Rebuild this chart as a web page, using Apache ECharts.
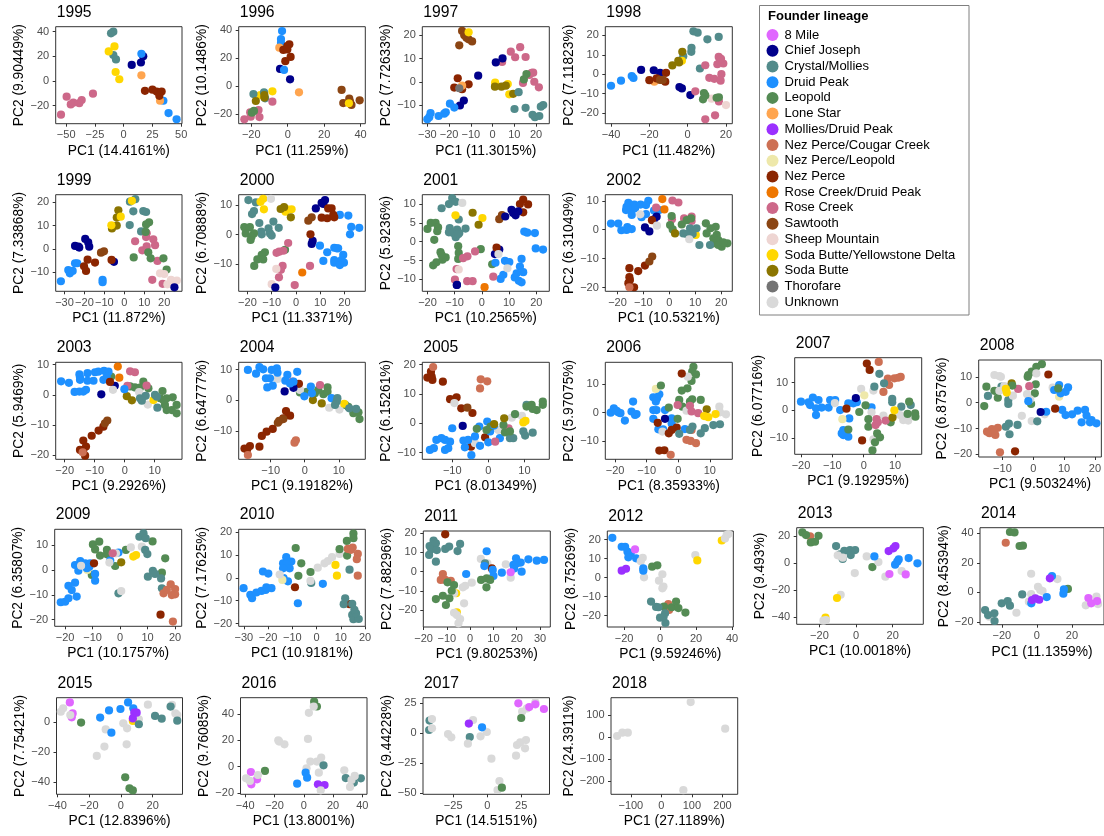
<!DOCTYPE html>
<html><head><meta charset="utf-8">
<style>html,body{margin:0;padding:0;background:#fff;overflow:hidden}#c{width:1104px;height:836px}</style>
<script src="https://cdn.jsdelivr.net/npm/echarts@6/dist/echarts.min.js"></script>
</head><body><div id="c"></div>
<script>
const lineages=["8 Mile","Chief Joseph","Crystal/Mollies","Druid Peak","Leopold","Lone Star","Mollies/Druid Peak","Nez Perce/Cougar Creek","Nez Perce/Leopold","Nez Perce","Rose Creek/Druid Peak","Rose Creek","Sawtooth","Sheep Mountain","Soda Butte/Yellowstone Delta","Soda Butte","Thorofare","Unknown"];
const lineageColors=["#E066FF","#00008B","#528B8B","#1E90FF","#548B54","#FFA54F","#9B30FF","#CD7054","#EEE8AA","#8B2500","#EE7600","#CD6889","#8B4513","#EED5D2","#FFD700","#8B7500","#737373","#D9D9D9"];
const M8=0,CJ=1,CM=2,DP=3,LE=4,LS=5,MD=6,NC=7,NL=8,NP=9,RD=10,RC=11,SA=12,SM=13,SY=14,SB=15,TH=16,UN=17;
const years=[1995,1996,1997,1998,1999,2000,2001,2002,2003,2004,2005,2006,2007,2008,2009,2010,2011,2012,2013,2014,2015,2016,2017,2018];
const pc1Percent=["14.4161","11.259","11.3015","11.482","11.872","11.3371","10.2565","10.5321","9.2926","9.19182","8.01349","8.35933","9.19295","9.50324","10.1757","10.9181","9.80253","9.59246","10.0018","11.1359","12.8396","13.8001","14.5151","27.1189"];
const pc2Percent=["9.90449","10.1486","7.72633","7.11823","7.33868","6.70888","5.9236","6.31049","5.9469","6.64777","6.15261","5.97075","6.07716","6.87576","6.35807","7.17625","7.88296","8.75269","9.493","8.45394","7.75421","9.76085","9.44228","24.3911"];
const xRanges=[[-59.1,50.7],[-26.9,42.6],[-32.3,26.1],[-43,23.3],[-34.4,28.9],[-23.6,28.6],[-21.9,24.8],[-24.7,24.3],[-23,19.1],[-19.4,17.8],[-18.3,16.9],[-23.1,17.1],[-22,18.5],[-17.7,22.1],[-23.8,22.4],[-32.1,20.1],[-20.1,34.4],[-29.3,40.7],[-32.4,36.7],[-32.5,38.3],[-40.6,38.8],[-43.2,43.2],[-47.2,45.8],[-165,250]];
const yRanges=[[-34.6,44],[-26.7,42.6],[-17.9,23.7],[-25.6,24.5],[-18.1,23.2],[-19,13.4],[-13.2,12.5],[-21.3,12.1],[-21.3,10.8],[-19.2,12.4],[-12.3,20.8],[-16.5,17.8],[-15.8,18.9],[-21,16.5],[-22.7,16.4],[-21.2,21.3],[-28.7,21.1],[-26,24.6],[-45.4,26.2],[-21.9,43.8],[-47.9,16.1],[-21.1,52.5],[-50.8,29.7],[-260.6,178.8]];
const xTickValues=[[-50,-25,0,25,50],[-20,0,20,40],[-30,-20,-10,0,10,20],[-40,-20,0,20],[-30,-20,-10,0,10,20],[-20,-10,0,10,20],[-20,-10,0,10,20],[-20,-10,0,10,20],[-20,-10,0,10],[-10,0,10],[-10,0,10],[-20,-10,0,10],[-20,-10,0,10],[-10,0,10,20],[-20,-10,0,10,20],[-30,-20,-10,0,10,20],[-20,-10,0,10,20,30],[-20,0,20,40],[-20,0,20],[-20,0,20],[-40,-20,0,20],[-40,-20,0,20,40],[-25,0,25],[-100,0,100,200]];
const yTickValues=[[-20,0,20,40],[-20,0,20,40],[-10,0,10,20],[-20,-10,0,10,20],[-10,0,10,20],[-10,0,10],[-10,-5,0,5,10],[-20,-10,0,10],[-20,-10,0,10],[-10,0,10],[-10,0,10,20],[-10,0,10],[-10,0,10],[-20,-10,0,10],[-20,-10,0,10],[-20,-10,0,10,20],[-20,-10,0,10,20],[-20,-10,0,10,20],[-40,-20,0,20],[-20,0,20,40],[-40,-20,0],[-20,0,20,40],[-50,-25,0,25],[-200,-100,0,100]];

const y1995=[[CM,-9,40,-11,38.6,-9,21,-6.7,17.5],[SY,-8,28,-13,24,-7,7.3,-3.8,1.4],[CJ,7,13,15,15,17,20],[DP,15.4,22,34.5,-16,39,-26,46,-31],[LS,15.4,4.6,31.6,-16],[NP,18.5,-8,25,-7,28.7,-8.6,33,-8.6,31,-12],[RC,-26.7,-10.3,-36.5,-15.4,-38.6,-18,-43.8,-17.6,-46,-19,-49.6,-12.7,-54.5,-27.3]];
const y1996=[[DP,-3.1,39.5,-3.7,33.8,-3.7,31],[LS,-4.6,27.6,6.2,-4.3],[NP,0.9,30,-0.2,28.8,-2.4,26,-0.2,26.4,1.6,21,-1.3,18],[CJ,-4.2,12.4,1.3,5],[DP,-2,11.7],[SA,29.6,-2.6,30.5,-12,33.8,-8.8,34.2,-11,35,-13.3,39.5,-10],[SY,33.6,-12.1,-8.4,-3.6,-15,-6.2],[CM,-18.8,-5.5,-13,-4.3,-12.4,-8.6],[SB,-17.5,-10.5,-12.8,-6.2,-12.8,-8],[RC,-8.4,-11,-16,-17,-15.5,-22,-20.6,-18.6,-20.3,-21.7,-23.8,-23.6],[LE,-18.5,-17.6,-19.7,-18.8]];
const y1997=[[SA,-14,21.9,-13,20,-12,19,-15.3,15.7,-11,18.3,-9.4,17.4],[SY,-11,21.3,1.2,-0.3,7,-0.9,7.7,-5.3],[NP,-16,1.6,-17.6,-2.4,-14,-3.1,-11,-1],[LS,-14,-1.6],[TH,-15.3,-2.7],[RC,4.4,8.6,8.4,13,10.4,10.6,12.7,14.9,15.2,10.7,18,3.9,18.7,4,19.2,0.1,14,-0.4,21.3,-2.3,16.9,3],[CJ,-6.6,2.7,1.5,8.4,4.6,10.1,-13.2,-8,-15,-10.1],[LE,15.6,3.4,14.4,1.1],[SB,1.1,-2,4.1,-2,6.1,-1.6,9.5,-5.1],[CM,12,-4.4,10.1,-11.6,15.2,-11.1,18.4,-14.1,19.5,-15.1,21.5,-14.6,22.2,-10.6,23.3,-9.9],[DP,-19.6,-9.3,-17.6,-11,-21.5,-13,-22.2,-13.6,-24.8,-14.6,-28.5,-13.4,-29.1,-15.1,-30,-16]];
const y1998=[[DP,-40,-6,-34.8,-3.4,-29.2,-1,-28.3,-2],[CJ,-24.3,2.2,-17.7,2,-14.4,0.7,-4.3,-6.7,-3,-7.4,1.4,-10.8],[LS,-17.4,-3.9],[NP,-20,-3.1,-16.2,-2.2,-11.3,0.7,-11.7,-3.9],[SA,-14.4,-3,-13,-3],[CM,-2.3,9.3,2,13.6,1.9,11.5,3,22.1,5.2,21.4,10.3,18,16.2,19.2,6.4,2.9],[SY,-3,6.9],[SB,-8,4.5,-4.9,6.9,-4.5,6,-2.8,11.5],[RC,9.2,4.6,16.2,8.9,16.9,6.3,18.6,5.5,15.5,5.1,17.4,7.9,17.6,0,11.3,-1.9,13.9,-2.4,17.2,-3.4,4,-8.9,16.3,-14.1,14.3,-21.3,9.2,-23.3],[SM,12.5,-12.7,20,-16],[LE,8.5,-9.8,9.2,-11,8,-13,15.1,-12.2,16.3,-12]];
const y1999=[[DP,-31.8,-13.8,-28.1,-9,-27.3,-10.4,-25.9,-9.4,-24.7,-6.1,-23.6,-6.1,-10.9,-13.2,-10.9,-14.2],[CJ,-24.7,1.3,-23,1,-22.6,0.6,-19.6,4.3,-18.1,2.8,-17.6,1,-5.2,-5.5],[NP,-18.4,-4.6,-14.7,-5.8,-20.2,-7.4,-19.2,-9.4,-6.4,-4.7],[SA,-11.7,-1.6,-10.2,-1],[SB,-6.2,8.8,-3.8,10,-3.8,13.4,-3,16.5],[CM,2.8,20.2,5.5,21.3,4.5,16.1,9.5,16.2,10.9,15.8,2.7,10.2,8.4,7.5],[SY,-6.5,10.1,-1.8,13.8,3.8,20.6],[RC,5.4,3.3,11.2,6.7,10.9,5.1,14.5,4.1,15.4,1.6,11.2,1.1,9,-0.6,16.6,-5.1,14,-13.2,19.2,-14.9],[LE,12.4,11.4,10.9,10.5,10.7,7.3,12,-1.4,13.2,-4,19.6,-4,4.7,-3.6,21.2,-8.8],[SM,17.9,-10.4,20,-10.7,21.6,-15.1,23.4,-13.2,26.3,-13.5,24.6,-14.7],[CJ,25.1,-16.4]];
const y2000=[[CM,-19.6,11.6,-16.5,10.8,-17.3,7.9,-18.1,6.9,-15.1,3.9,-14.3,1,-14.1,0.1,-11.3,2.1,-9.3,4.4,-7.1,2.3,-10.7,0.4,-10,-0.3],[SY,-13.5,12,-14.6,11,-13.2,8.5,-4.3,7.7,-1.8,8.5,-3.6,8.5],[UN,-10.3,12],[SB,-6.3,8.6,-4.9,9.2,-2.1,5.8],[LE,-21.3,2.5,-19,2.5,-20.7,0.4,-17.3,0.4,-18.3,-0.7,-18.7,-1.8,-12.8,-5.9,-14.1,-6.8,-15.9,-8.3,-13.5,-8.3,-17.2,-10.5,-4.5,-5.1],[RC,-3.2,-2.8,-5.2,-5.4,-6.9,-5.7,-8,-6.1,-5.5,-10.5,-6.2,-11.8,5.8,-10.5,-7,-14.3,-0.5,-16.9],[SM,-8.1,-11.5,-10,-16.6],[CJ,-8.5,-17.7,8.2,8.8,10.6,10.7,12,11.6,11.3,10.3,6.5,-3.1,6.9,-2.1],[DP,18.1,6.6,21.6,6.4,22.8,2.6,26.1,2.3,22.3,0.1,9.9,-3.7,12.9,-5.9,15.8,-4.4,17.4,-4.6,19.5,-6.8,11.3,-8.8,15.8,-8.5,15.8,-9.4,18.8,-8.5,19.8,-9.4,18.1,-10.2,16.8,-4.6],[NP,6,0.1,10.6,5.7,13.3,8.8,14.7,8.8,12.9,5.5,15.4,6.6,15.8,5.8],[SA,6.5,5.8,5.1,4.7],[RD,2.6,-12.7]];
const y2001=[[LE,-20,3.4,-18.8,5,-17,5,-16.1,3.8,-16.4,2.8,-17.5,0.5,-17.9,-6.3,-16.7,-5.5,-15.2,-2.8,-14.5,-4.8,-13.3,-4.2,-14.8,-3.5,-8.7,-1.2,-8.5,-3,-8.7,-4.6,-0.4,-2,3.8,-6],[CM,-14.8,8.9,-12.1,10,-10.9,11.6,-9.6,10.6,-8.5,5.9,-6,3.5,-11.8,3.6,-12.1,2.5,-10.6,2.3,-9.1,3.2,-8.3,2.3,-9.6,1.2,-8.7,2],[UN,-7.2,10.3],[SY,-9.7,7,0.2,6.3],[SB,-3.4,7.7,-1.2,4.5],[SA,7.4,7.1,6.4,6],[NP,15.2,11.2,14,10,17,9.9,15.2,7.8],[CJ,8.6,6.7,10.9,8.5,11.5,7.6,12.4,7,13.4,8.1,4.8,-3.3,6.4,-2.1,-9.2,-11.5],[NP,5.4,-1.6],[DP,15.6,2.7,16.7,2.4,19.5,2.3,19.8,-1.8,22.5,-2.1,14.6,-4.6,5,-5.6,8.5,-5.1,10.1,-5.4,14,-6.6,15.2,-8.1,7.9,-8.8,6.9,-9.9,12.1,-9.5,13.6,-10.4,14.6,-10.8,12.8,-8.4],[UN,6.1,-3.3,9.4,-7.1],[RC,-2.5,-2.6,-5.3,-3.9,-6.9,-4.4,4.2,-9.3,-9.9,-10.1,-5.4,-10.5,-3.4,-10.5,-9.3,-7.3],[SM,-8.5,-7.4],[RD,1,-12.1],[CJ,-9.2,-11.5]];
const y2002=[[DP,-22.5,2.1,-19.7,2.1,-18.5,-0.2,-16.2,0.9,-16.5,-0.1,-14.5,0.2,-15.8,9.3,-13.5,8.7,-16.5,7.9,-14.9,6.8,-16.7,6.8,-13.2,7.4,-14.5,5.1,-11.1,8.7,-8.1,10,-9,8.5,-10.7,4.3,-9,5.4,-5.9,6.6,-3.9,6.8],[UN,-11.2,5.3],[CJ,-9.4,0.8,-7.7,-0.6,-4.9,4.5,-5.9,3.6],[NP,-6.7,3.3,-15.4,-13.3,-12,-14.3,-9.4,-12.4,-15.4,-16.4,-15.2,-17.4,-15.8,-18.5,-13.6,-19.9],[SA,-7.7,-11,-6.6,-9.3],[NC,-15.4,-19.9],[RD,-2.7,10.6,-1.9,7],[RC,1.2,10.1,3.5,9.4,-5.1,7.6,5.7,3.9,8.6,4.5,8.6,3,1,3.6],[LE,0.9,4.7,0.3,1.6,1.3,0.1,4.8,1.8,6.7,3.3,8.4,3.9,14.1,2.2,17.9,1,15.9,0.5,14.4,-1.3,18.3,-1.8,17,-3,18.9,-3.6,17,-4.7,20.2,-5.9,22.4,-4.7,18.9,-5.3,20.8,-4.4],[UN,-4.8,1.4],[SB,2.2,-1.3],[SY,10.2,-1.8],[CM,5.4,-1.3,8,0.5,10.5,0.5,9,-1.5,11.6,-5.3,6.7,-1.5,15.7,-5.3],[UN,7.7,-3.3]];
const y2003=[[LE,-4.5,6.1,1.8,2.8,3.4,2.5,6.2,4.4,5.1,2.4,7.9,2.2,12.6,1.3,11.8,-1.1,14,-1.1,16,-0.8,17.3,-3.3,17.3,-6.1,14,-5,15.7,-5,13.4,-3.3,12.9,-1.7],[DP,-21.2,4.5,-18.6,4,-16.7,1,-15.1,1.1,-13.8,1.1,-12.9,1.7,-15.1,6.8,-14.9,5.8,-14.9,5,-12.4,7.2,-9.9,7.5,-8.8,7.7,-6.9,8,-5.4,7.7,-10.4,4.7,-7.1,5,-6,6,-12.4,4.7],[RD,-2.3,9.4,-1.8,5.7],[RC,1.8,7.8,3.4,7.5,0.9,3,7.3,3.1],[CJ,-7.8,0.2,-3.3,3],[NP,-4.9,4.3],[UN,-3.9,1.7,4.8,0.9,7.7,-3.2],[SB,0.7,-0.4,2.4,-1.8],[DP,-0.1,1.9],[SY,9.6,-1.7],[CM,5.1,-1.1,7,-0.3,5.7,-1.9,10.1,0,10.9,-4.2,10.7,-0.6],[NP,-11,-13.5,-8.7,-11.8,-7.1,-10.5,-13.8,-15.1,-12.9,-17.1,-13.8,-18.2,-14.9,-18.2,-13.2,-20.1],[SA,-6.6,-9.4,-5.8,-8.5],[NC,-14,-19]];
const y2004=[[LE,-1.4,2.6,0.6,2.8,3,2.3,5.5,2,6.7,4.2,6.7,2.8,4,3.4,12.8,-2.1,16.1,-6.1,14.3,-4.2,15.8,-3.9,11.9,-1.5],[UN,-8,7,-1.4,3.4,7.2,-2.4,10.2,-3],[RC,-3.6,6.1,4.5,5],[NP,-1.7,5.4],[CJ,-5.9,2.9,-3.3,4.1],[SB,2.4,0.1,5,-1],[DP,-16.7,9.9,-14.3,8.7,-13.3,10.8,-12.2,10.1,-11.4,7.2,-9.7,9.9,-8.2,10.4,-8,9,-10.2,7.2,-11,4.2,-9.4,4.8,-5.1,8.3,-5.7,6.4,-2.2,9.3,-3.3,6.1,-4.3,5.5,1.8,4.5,2.1,2.3,-0.1,1.3,7.9,0.7],[SY,11.6,-1.1],[CM,9.6,0.7,9.4,-0.4,13.1,-2.6,15.1,-2.8,8.9,-1.5],[NP,-5.5,-3.5,-4.3,-5,-6.3,-5.9,-9.4,-9.3,-11.2,-10.2,-12.6,-11.6,-13.3,-15.1,-16.1,-14.9,-17.7,-15.7,-16.9,-15.9],[SA,-7.5,-6.7,-6.3,-6.1,-7.9,-7.3],[NC,-16.7,-17.8,-3,-13.8,-2.6,-13]];
const y2005=[[NP,-16.9,15.6,-15.7,15.9,-15.5,14.8,-15.9,17.6,-12.6,14.2,-10.6,8.2,-8.8,8.8,-9.7,8,-7.5,5.1,-4.4,3.5,-0.9,-4.8,-4.8,-8],[NC,-15.3,19.2,-2.1,15,-0.3,14.3,-2.3,11.9],[SA,-5.8,5.3],[UN,-9.4,6.9,9.3,2.5,6.5,1.9,2.8,-2.3,-3.7,-6.8],[DP,-10,-1.7,-0.3,0.6,-2.5,-1.1,-16.2,-9.1,-15.1,-8.5,-14.4,-5.7,-13,-5.1,-12,-5.7,-10.6,-6.3,-12,-9.1,-11.1,-8.5,-6.9,-5.9,-5.6,-5.7,-3.7,-4.5,-6.5,-8.2,-2.3,-7.7,-4.7,-10.9,0,-6.5,3.2,-5.1,0.5,-2.8],[RC,1.9,-6.3,5.6,-1.7],[CM,10.6,6.3,9.7,-2.8,10.2,-4.2,12.3,-3.2,6.9,-5.1,6,-5.1],[LE,-3.2,-1.9,-0.5,-2.3,0.6,-1.1,4.2,-0.6,4.6,-3.1,6,-2.8,7.4,3.1,10.6,5.7,12,6.3,13.4,4.5,15.1,6.3,15.1,7.4,12.3,4.9],[DP,1.6,-0.8],[SB,4.4,1.7,1.6,-0.3],[SY,9.7,0.3,10.3,0.8],[CJ,-7.1,-0.9]];
const y2006=[[DP,-21.4,0,-20.4,1.5,-19,0.1,-18.3,-0.2,-16.9,-2.8,-19.5,0.6,-14.3,3.9,-14.8,0.4,-13.2,-0.5,-13.7,-0.8,-7.9,5.4,-6.7,5.1,-6,6.5,-7.1,3.9,-7.9,0.9,-6.9,0.9,-4.2,0.9,-7.9,-2.2,-6.3,-5.9,-4.8,-5.9,-2.1,-2,-2.1,-3.8,2.1,-5.8],[NL,-7.1,8.4],[LE,-5.5,9.6,-3,1.8,-0.2,-2.2,1.1,7.8,2.9,8.6,0.3,4.5,3.7,3.9,4.4,4.7,7.1,4.5,1.3,2.1,4.8,16.2,4.4,14.5,5.6,13.5,4.2,11.2],[UN,3,12.7,-5,-6.7,2.6,0.7,13,2.1,15.1,-0.6,13.2,0.1],[NP,1.1,13.8,-6.5,-3.6,-0.5,-5.3,-2.1,-6.1,-3,-7.3,-6,-13.4,-4.4,-13.3],[CJ,-4.2,-2.2],[RC,-0.2,2.7,3.7,2.4,4.2,0.4,6.3,-0.2],[SB,9,1.2],[SY,8.2,-1.2,9.5,-1.6,11.8,-0.5],[NC,-2.4,-14.9,2.6,-9.6,3.9,-10,5.6,-10.8,4.2,-6.1],[CM,0.3,-7.5,4.5,-4.9,7.1,-7.3,8.4,-5.5,11.1,-4.4,13.2,-4.1,3.7,-6.1]];
const y2007=[[DP,-20,3.1,-17.6,2.9,-16.2,4.6,-14.4,3.7,-17.1,1.9,-15.2,0.7,-15.2,-1.7,-13.4,1,-11.2,1,-10.7,3.7,-9.1,3.7,-7.5,0.1,-4.6,-2.9,-4.9,2.5,-3.3,2.5,-2.2,2.9,-6.5,-7.1,-6.5,-8.9,-4.9,-9.5,2.5,1.1,-7,-8.3],[UN,-9.2,2.6,-0.8,7.7,3.1,7.1,2.5,-0.7,3.1,-10.4,11.6,-1.7,12.6,-3.5,14.2,-3.7,6.3,-1.9],[NL,-6.8,-3.2,0.2,5.4],[NP,-5.5,0.6,1,16.8,1.9,14.5,-0.5,-10.8],[CJ,-2.5,4.4],[NC,4.8,17.4,7.7,11.4,8.1,9.1,9.8,11.5,11,11.7,11.8,12,6.3,6.6],[CM,5,13.1,3.4,8.5,6.5,9.7,9.1,4.1,9.1,2.9,12,1.3,15,1.9],[LE,0.6,1.8,-1.4,-0.6,1.5,-3.2,1.5,-5.9,8.6,-4.3,14,-1.3,16.4,-1.1,16.5,-2.3,14.5,3.1,4.3,-8.3,5.2,-9.7,3.6,-11.5,2.8,-14.4,-4.9,-6.9],[RC,3.8,-5.3,4.5,-4.3,7,-3.7,4.1,-3.2],[SB,9.2,-2.6],[SY,9.8,0]];
const y2008=[[LE,-15.9,-1.3,-15.2,6.2,-12.6,4.6,-11.5,1.9,-1.6,10.7,-0.5,12,1,13.9,2.8,14.9,-1.8,10,0.5,3.6,0.8,7.1,-0.7,-0.5],[CM,-14.7,2.6,-10.3,6.2,-8.1,1,-8.1,-0.5,-7.9,-8.1,-8.9,-9.3,-5.1,-8.6,-7.7,-12.2],[UN,-12.6,10.7,-10.5,10,-11,10.3,-11,4.6,-9.4,6.4,-6.6,2.7,-2,3.3,-1,1.3,-3.7,-5.1,-0.5,-7.1,1,11.3,6.3,5.8,3.7,-4.5],[CM,1.3,-7.2],[SB,-7,7.5],[RC,-4.9,5.3,-1.3,6.4],[LE,-6.8,6.6],[SY,-8.9,5.3,-8.6,3.9],[NL,8.4,2.3],[DP,-1.6,0.6,4.2,-3.5,6.8,4.9,8.4,6.8,8.9,3.6,11.3,5.9,10.5,4.2,9.4,-2.8,10.5,-4.8,12.6,-4.5,14.4,-3.1,16.8,-2.8,18.9,-6.7,17.3,-5,15.7,-7.6,18.4,-7.6,20.5,-8],[LE,8.1,5.5],[CJ,2.4,-3.6],[NP,4.9,10.9,7.1,-2.3,-5.9,-18.8],[NC,-15,-11.2,-13.4,-10.2,-11.5,-9.7,-14.2,-11.8,-12.3,-12.5,-12.6,-10.9,-10.8,-19.2]];
const y2009=[[LE,-9.9,10.3,-7.6,11.4,-9.1,8.3,-7.3,5.8,-4.8,8.1,-4.8,6.3,-1.8,1.6,2.1,8.1,11.8,11.5,16.4,4.7,15.2,-1.1,-10.3,-2],[NL,-11.9,0],[DP,-21.6,-13,-20,-12.8,-18.8,-11.4,-18.8,-6.4,-17.6,-8.1,-16.4,-5.1,-15.8,-10.7,-16.4,2,-14.5,3.6,-15.2,-0.3,-12.7,2.7,-11.2,1.3,-12.1,0.7,-10.9,2.7,-9.1,-1.6,-9.1,-4.3,-3.6,3.8,-0.6,7],[UN,-14.2,1.7,-3.9,3,-1.5,6.7,3.9,9.1,7.9,9.4],[NP,-9.5,2.7,14.7,-18],[RC,-2.7,6.7],[SB,0.4,3.1],[SY,4.8,5.4,5.8,6],[CM,-0.6,-9.4,7,13.4,8.5,14.8,9.3,12.8,9.1,8.1,9.9,6.4,11.9,-0.3,10.1,-2.7,12.7,-1.6,14.9,-3.4,15.2,-7.4],[UN,0.4,-8.5],[NC,15.8,-9.4,18.4,-5.8,20,-7.7,17,-8,20,-9.8,18.8,-10.1,19.2,-20.8]];
const y2010=[[DP,-30.1,-4.5,-27.3,-7.4,-26.6,-8.9,-24.8,-6.4,-22.7,-5.7,-21,-5.3,-18.6,-4.5,-20.7,-4.1,-22.1,2.8,-19.9,1.9,-12.5,9.1,-13.8,6.4,-10.4,7.2,-12.5,6.1,-11.1,4.2,-13.8,4.2,-13.6,-0.1,-11.8,-1.5,2.6,-2.6,-7.7,-11.1],[NL,-14.1,-0.9],[CM,-2.2,-2.2],[SY,7.8,5.7,8.4,1],[UN,-15.2,1.5,0.5,4.5,3.3,6.4,4.7,7.4,6.4,9.1,9.5,10.5,-2.5,-1.3],[LE,-8.6,13.1,-6.3,6.4,-7.5,0.9,-2.5,2.6,9.5,12.6,12.6,9.8,12.5,16.2,15.2,19.4,15.2,17.4],[NP,-8.9,-4.1,13.6,-11.5],[CM,13.6,3.6,11.8,-8.9,11.2,-11.5,14.7,-11.4,14.7,-16.2,15.2,-18.1,17.4,-18,16.3,-15.5,15.6,-14],[NC,12.9,12.7,14.9,13.3,17,10.5,16.6,8.2,17,1,14.2,12.3]];
const y2011=[[NP,-10.7,19.4],[CM,-17.4,13.3,-15.7,16.1,-14.7,14.7,-16.7,11.6,-14.3,11.2,-17.6,8.7,-14.7,5.2,-10.7,11.8,-9,13,-4.3,14.4,-5.4,10.7],[UN,4.6,6.6,7.4,4.3,15.3,3.8,17.4,-3.1],[CM,6.4,4.3],[NP,9.3,1.7],[DP,7.1,10.6,-1.7,-1.2,6.1,2.9,9.7,0.9,10,-2.2,13.6,-0.5,18.6,3.5,19.7,6.9,18.9,1.7,21.7,4.7,22.1,0,25,6.4,28.6,5.7,31.7,6.1,20,4.3],[M8,17.4,-0.3],[NC,-11.7,-1.2,-12.6,-4.3,-8.3,-4.7,-10.7,-4.3],[SY,-6,-11.2,-5.7,-21.1],[UN,0.7,-5.7,-2.1,-7.3,-3.1,-8.1,-2.6,-16.4,-6.9,-21.3,-5.7,-22.5,-4.3,-24.6,-5,-26.8,-6.9,-11.2],[LE,-9.7,-5.5,-6.9,-6.9,-7.9,-9.9,-14.7,-14.2,-11.7,-12.5,-8.9,-13.8,-10.4,-17.3,4.7,-4.3,7.1,-3.5,8.6,-4.3,7,-8.1]];
const y2012=[[DP,-26.5,21,-21.3,16.3,-19.4,16.3,-18.1,13.7,-16.3,12.8,-17.6,10.7,-13.3,10.2],[UN,-9.6,10.5,-10.7,8.6,-8.9,0.2,1.3,1.8,-0.6,-1.6,1.9,-4.7,1.3,-5.6,19.6,11.9],[DP,-9.3,4.9,-9.3,3.7],[M8,-13.9,14.9],[MD,-21.3,3.7,-18.9,4.7],[SY,20.7,9.1,34.3,19.6],[UN,36.1,20.7,37,22.5,38,23],[NC,4.6,-13.9,5,-17],[LE,-4.4,5.8,-1.5,6.5,2.2,-15.3,6.5,-15.6,8.9,-12.6,10.2,-16,14.1,-18.4],[CM,-5,-12.6,-2.2,-15.4,-0.9,-15.6,2.8,-18.8,0,-21.1,1.9,-20.9,3,-23.9]];
const y2013=[[NC,-25.1,19.8],[LE,-29.3,22.7,-27.3,20.7,-20.5,20.2,-24.7,15.3,-22.4,15.8,8.9,-3],[CM,-10.9,12.6,-6.4,9.1,-3.3,9.6,-0.5,9.6,-8.7,6.4,-2.9,5.9,-7.3,3],[UN,-10,5.7,-7.3,4,-0.7,-7.4,5.8,4.9,12.2,0.7,16,-10.1,24.9,-5.9,-8.4,-23.5],[SY,-10.4,-25.9,-16.7,-40.5],[UN,-16.4,-42.2,-17.8,-42.7],[DP,10,4.9,23.3,2.7,22.5,1,21.3,-1.2,28.7,3.7,33.5,-0.2],[MD,17.8,8.9,20.4,10.9,21.5,12.6],[M8,18.2,-8.1,27.1,-8.4]];
const y2014=[[LE,-15.4,40.9,-12.8,40.6,-9.9,31.4,-8,31.6,17.7,2.3],[NC,-17.8,33.6],[SY,-1.9,-4.1],[UN,-3.3,12.6,0.6,3.8,1.9,1.6,3.2,0.9,-3.3,-1.1,-11.7,-13.8,-4.6,-6.3,11.7,9,27.9,-8.8,34,-2.9,34.9,-7.9,-27.3,-16.5,-26,-15.8],[CM,-29.6,-12,-27.9,-15.4,-24.3,-14.2,-24.2,-19.4,-20.1,-7.4,-16.7,-5.9,-15.4,-9,-8.4,-1.4],[DP,8.6,11.1,5.6,-3.2,-3.2,-7.4,15.4,2,15.1,-0.9],[MD,7.4,9.5,-2.8,-5.2,-0.9,-4.1,1.3,-5],[M8,29.4,-3.8,31,-7.4,34.4,-5.9]];
const y2015=[[M8,-32.2,13,-30.4,5.7,-31,3.1],[UN,-36.4,9.1,-37.9,6.8,-31.9,4.6,-9.6,-4.9,-10.4,-16.3,-15.2,-22.5,1.5,-0.9,3.6,-14.8,17,11.5,11.3,1.8,3.9,-4.2,32.2,11.3,34.3,5.7,35.5,4.6],[LE,-25.1,-0.4,2.7,-36.6,5.4,-43.9,7.5,-45.3],[DP,-13.1,2.9,-7.5,7.7,-0.3,8.6,4.5,13,7.8,9.1,-6,-7.1],[SY,7.5,0.7],[MD,7.5,2.4,8.4,6.2,9.9,6.2],[CM,11.3,-1.5,21.5,4,25.7,2.2,31.3,10.2,35.5,0.9]];
const y2016=[[LE,7.1,49.6,9,45.8,-26.5,-3.3],[UN,6.8,45.8,3.5,41,2.9,21.1,-16.8,19.1,-13.2,17,-17.4,20.1,4.5,3.8,9,3.8,11.9,6.9,1.9,-1.3,10.3,-4.6,27.7,-2.8],[M8,-36.1,-4.1,-35.8,-13.5,-31.9,-9.7],[UN,-39.4,-8.9,-36.8,-10.9,-31.3,-6.4],[CM,13.5,1,28.7,-8.7,39,-8.9,34.2,-12.2],[DP,-4.5,-13,1.3,-4.6,2.3,-8.4],[MD,9.7,-13.5,14.2,-14,11.6,-14.8],[UN,34.8,-7.1,32.6,-10.2,31.6,-15.5,11.6,-18.1]];
const y2017=[[CM,-42.4,10.6,-42.7,2.8,-12.8,-3.1],[UN,-40.6,11.9,-40.6,4.2,-28.8,-0.6,-26.4,-3.3,-14.2,-8.6,-10.4,11.1,-4.9,-2.5,-0.3,1.1,3.1,-21.1,9,-39.7,7.6,-47.2,21.2,-18.6,21.9,-9.7,24.3,-7.5,28.5,-5.6,27.8,-12.5,25.7,18.1,29.2,20.8,35.4,25.8],[MD,-13.5,8.1],[DP,-3.8,5],[LE,10.8,-45.3,25,12.8],[M8,22.9,25,30.9,21.9,35.4,24.2,41.7,20.3]];
const y2018=[[UN,-145,4.5,-128,19.7,-110,19.7,96,159,209,38,72,-242]];
const panelData=[y1995,y1996,y1997,y1998,y1999,y2000,y2001,y2002,y2003,y2004,y2005,y2006,y2007,y2008,y2009,y2010,y2011,y2012,y2013,y2014,y2015,y2016,y2017,y2018];

/* panel rectangles in page pixels: left, top, right, bottom (layout only) */
const panelBoxes=[[55.7,26.7,182,123.7],[238.7,26.7,365.3,123.7],[422.3,26.7,549.3,123.7],[605.3,26.7,732.3,123.7],
[55.7,194.7,182,291.3],[238.7,194.7,365.3,291.3],[422.3,194.7,549.3,291.3],[605.3,194.7,732.3,291.3],
[55.7,362.3,182,459.3],[238.7,362.3,365.3,459.3],[422.3,362.3,549.3,459.3],[605.3,362.3,732.3,459.3],
[794.7,357.7,921.7,454.3],[978.7,360,1105.7,457],
[54.7,529.3,181.7,626.3],[238.7,529.3,365.3,626.3],[423.3,531,550.3,627],[607.3,531,733.3,627],
[796.7,527.7,923.3,624.3],[980,527.7,1107,624.7],
[56.5,697.7,182.5,794.3],[240.5,697.7,367,794.3],[423,697.7,549.5,794.3],[611,697.7,737.7,794.3]];

const FONT='"Liberation Sans",Arial,sans-serif';
const fmt=v=>v<0?'\u2212'+Math.abs(v):String(v);
const grid=[],xAxis=[],yAxis=[],series=[],title=[];
years.forEach((yr,i)=>{
  const [L,T,R,B]=panelBoxes[i];
  grid.push({left:L,top:T,width:R-L,height:B-T,show:true,backgroundColor:'#fff',borderColor:'#333',borderWidth:1});
  title.push({text:String(yr),left:L+1,top:T-22.5,padding:0,textStyle:{fontFamily:FONT,fontSize:15.7,fontWeight:'normal',color:'#000'}});
  const axis=(range,ticks,name,gap,margin)=>({gridIndex:i,type:'value',min:range[0],max:range[1],name,nameLocation:'middle',nameGap:gap,
    nameTextStyle:{fontFamily:FONT,fontSize:13.8,color:'#000'},splitLine:{show:false},axisLine:{show:false,onZero:false},
    axisTick:{show:true,length:3,customValues:ticks,lineStyle:{color:'#333',width:1}},
    axisLabel:{show:true,customValues:ticks,margin,formatter:fmt,fontFamily:FONT,fontSize:11,color:'#4D4D4D',hideOverlap:false}});
  xAxis.push(axis(xRanges[i],xTickValues[i],`PC1 (${pc1Percent[i]}%)`,20,6));
  yAxis.push(axis(yRanges[i],yTickValues[i],`PC2 (${pc2Percent[i]}%)`,28,6.5));
  panelData[i].forEach(row=>{
    const pts=[];
    for(let k=1;k<row.length;k+=2) pts.push([row[k],row[k+1]]);
    series.push({type:'scatter',name:lineages[row[0]],xAxisIndex:i,yAxisIndex:i,data:pts,symbol:'circle',symbolSize:8.2,
      itemStyle:{color:lineageColors[row[0]],opacity:1},silent:true,animation:false});
  });
});
title.push({text:'Founder lineage',left:768,top:10,padding:0,textStyle:{fontFamily:FONT,fontSize:13,fontWeight:'bold',color:'#000'}});
const chart=echarts.init(document.getElementById('c'),null,{renderer:'canvas',width:1104,height:836});
chart.setOption({animation:false,backgroundColor:'#fff',title,grid,xAxis,yAxis,series,
  graphic:[{type:'rect',shape:{x:759.5,y:5.5,width:209.5,height:309.5},style:{fill:'#fff',stroke:'#7f7f7f',lineWidth:1},z:-1}],
  legend:{orient:'vertical',left:766.5,top:28.5,padding:0,itemWidth:12,itemHeight:12,itemGap:2.72,icon:'circle',selectedMode:false,
    data:lineages,textStyle:{fontFamily:FONT,fontSize:13,color:'#000',padding:[0,0,0,1]}}});
</script></body></html>
